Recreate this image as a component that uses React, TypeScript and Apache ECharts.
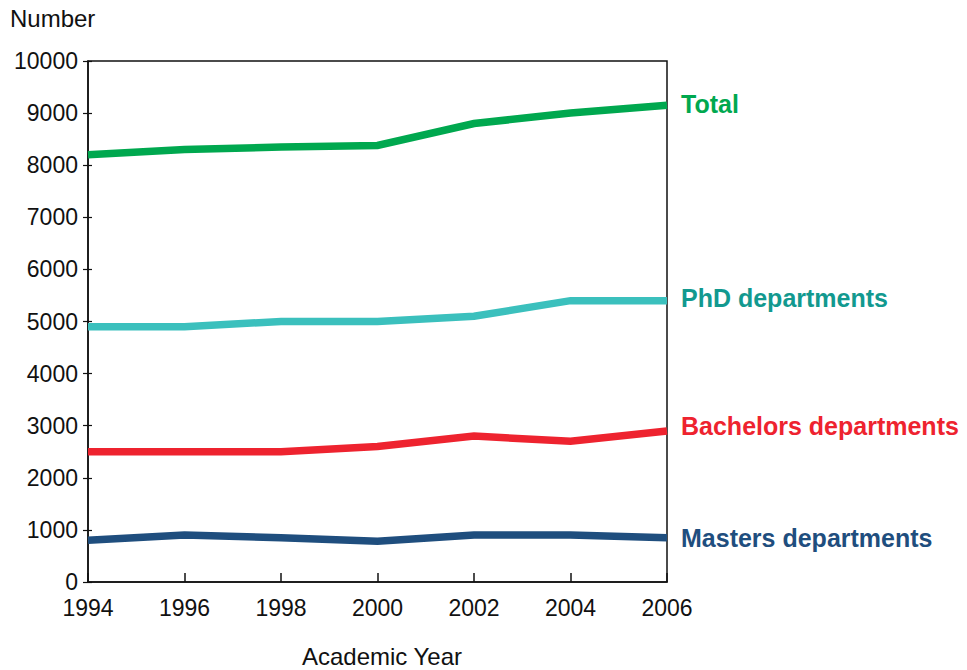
import React, { useEffect, useRef } from "react";
import * as echarts from "echarts";

const years = [1994, 1996, 1998, 2000, 2002, 2004, 2006];
const totalValues = [8200, 8300, 8350, 8380, 8800, 9000, 9150];
const phdValues = [4900, 4900, 5000, 5000, 5100, 5400, 5400];
const bachelorsValues = [2500, 2500, 2500, 2600, 2800, 2700, 2900];
const mastersValues = [800, 900, 850, 780, 900, 900, 850];

const seriesNames = ["Total", "PhD departments", "Bachelors departments", "Masters departments"];
const lineColors = ["#00A84F", "#3BC0BD", "#EE232F", "#1F4E7E"];
const labelColors = ["#00A84F", "#12998F", "#EE232F", "#1F4E7E"];
const labelOffsets = [[0, -1], [0, -3], [0, -5], [0, 0]];

const FONT = "'Liberation Sans', Arial, sans-serif";

export default function App() {
  const ref = useRef<HTMLDivElement>(null);
  useEffect(() => {
    if (!ref.current) return;
    const chart = echarts.init(ref.current, null, { renderer: "svg" });
    const all = [totalValues, phdValues, bachelorsValues, mastersValues];
    const axisLabelStyle = { color: "#111", fontSize: 23, fontFamily: FONT };
    chart.setOption({
      animation: false,
      backgroundColor: "#fff",
      grid: {
        left: 88,
        right: 300,
        top: 61,
        bottom: 88,
        show: true,
        borderColor: "#111",
        borderWidth: 1.5,
      },
      graphic: [
        {
          type: "text",
          left: 10,
          top: 6,
          style: { text: "Number", fontSize: 24, fontFamily: FONT, fill: "#111" },
        },
        {
          type: "text",
          x: 382,
          y: 644,
          style: { text: "Academic Year", fontSize: 24, fontFamily: FONT, fill: "#111", textAlign: "center" },
        },
      ],
      xAxis: {
        type: "value",
        min: 1994,
        max: 2006,
        interval: 2,
        axisLine: { show: true, lineStyle: { color: "#111", width: 1.5 } },
        axisTick: { show: true, inside: true, length: 9, lineStyle: { color: "#111", width: 1.5 } },
        axisLabel: { ...axisLabelStyle, margin: 14, formatter: (v: number) => String(v) },
        splitLine: { show: false },
      },
      yAxis: [
        {
          type: "value",
          min: 0,
          max: 10000,
          interval: 1000,
          axisLine: { show: true, lineStyle: { color: "#111", width: 1.5 } },
          axisTick: { show: true, length: 5, lineStyle: { color: "#111", width: 1.2 } },
          axisLabel: { ...axisLabelStyle, margin: 10, formatter: (v: number) => String(v) },
          splitLine: { show: false },
        },
        {
          type: "value",
          position: "left",
          min: 0,
          max: 10000,
          interval: 1000,
          axisLine: { show: false },
          axisTick: { show: true, inside: true, length: 4, lineStyle: { color: "#111", width: 1.2 } },
          axisLabel: { show: false },
          splitLine: { show: false },
        },
      ],
      series: all.map((vals, i) => ({
        name: seriesNames[i],
        type: "line",
        yAxisIndex: 0,
        data: years.map((y, j) => [y, vals[j]]),
        showSymbol: false,
        symbol: "none",
        lineStyle: { color: lineColors[i], width: 7.5, cap: "butt", join: "miter" },
        endLabel: {
          show: true,
          formatter: seriesNames[i],
          color: labelColors[i],
          fontSize: 25,
          fontWeight: "bold",
          fontFamily: FONT,
          distance: 14,
          offset: labelOffsets[i],
        },
      })),
    });
    return () => chart.dispose();
  }, []);
  return (
    <div
      ref={ref}
      style={{ position: "fixed", left: 0, top: 0, width: 967, height: 670 }}
    />
  );
}
